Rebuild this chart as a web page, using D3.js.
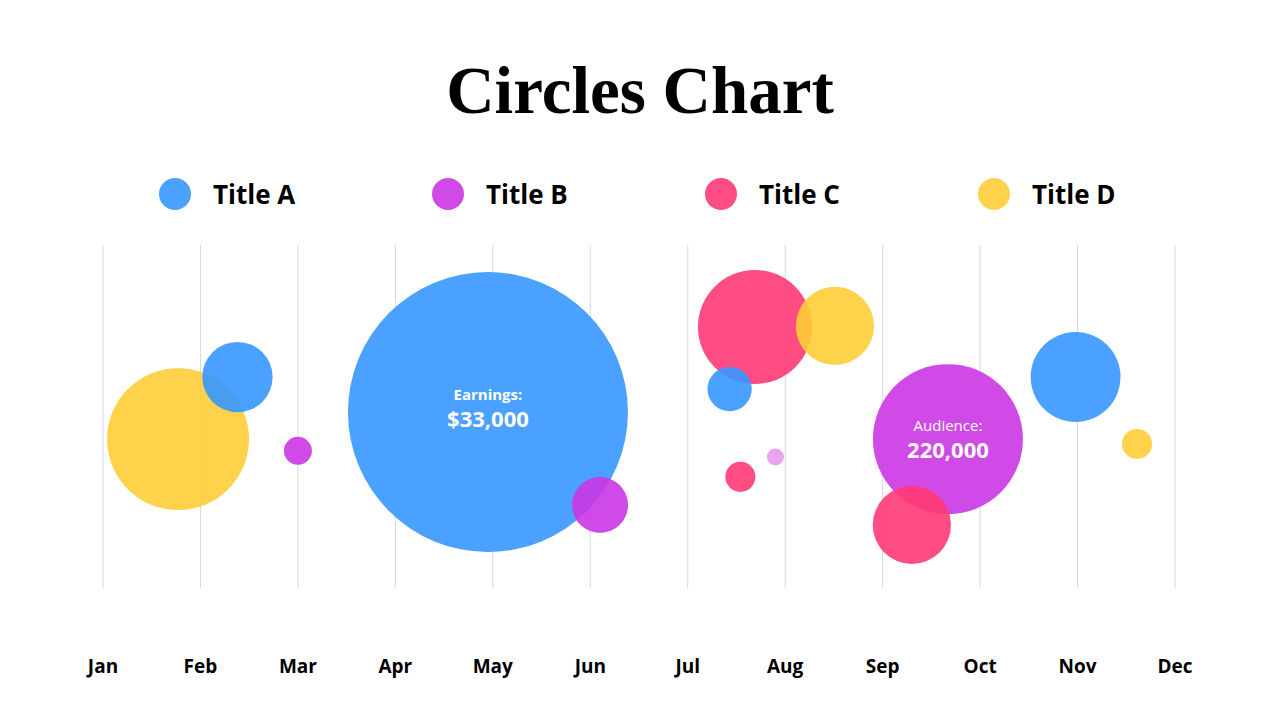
<!DOCTYPE html>
<html>
<head>
<meta charset="utf-8">
<script src="https://cdn.jsdelivr.net/npm/d3@7"></script>
<style>
  body { margin: 0; background: #fff; }
  svg { display: block; }
</style>
</head>
<body>
<div id="chart"></div>
<script>
// chart data
var months = ["Jan", "Feb", "Mar", "Apr", "May", "Jun", "Jul", "Aug", "Sep", "Oct", "Nov", "Dec"];
var seriesNames = ["Title A", "Title B", "Title C", "Title D"];
var seriesColors = ["#3697ff", "#cb36e5", "#ff3874", "#ffcd39"];

// bubbles per series: month position, value, size
var titleA = [
  {m: 1.38, v: 61.5, s: 6.3},
  {m: 3.95, v: 51.3, s: 100, label: "Earnings:", value: "$33,000"},
  {m: 6.43, v: 58.0, s: 2.5},
  {m: 9.98, v: 61.5, s: 10.3}
];
var titleB = [
  {m: 2.0, v: 40.0, s: 1.0},
  {m: 5.1, v: 24.2, s: 4.0},
  {m: 6.9, v: 38.2, s: 0.37, faint: true},
  {m: 8.67, v: 43.4, s: 28.7, label: "Audience:", value: "220,000"}
];
var titleC = [
  {m: 6.69, v: 76.1, s: 16.6},
  {m: 6.54, v: 32.4, s: 1.15},
  {m: 8.3, v: 18.4, s: 7.8}
];
var titleD = [
  {m: 0.77, v: 43.4, s: 25.7},
  {m: 7.51, v: 76.4, s: 7.8},
  {m: 10.61, v: 42.0, s: 1.15}
];

var W = 1280, H = 720;

var svg = d3.select("#chart")
  .append("svg")
  .attr("width", W)
  .attr("height", H);

var x = d3.scaleLinear().domain([0, 11]).range([103, 1175]);
var y = d3.scaleLinear().domain([0, 100]).range([588, 245]);
var r = d3.scaleSqrt().domain([0, 100]).range([0, 140]);

// title
svg.append("text")
  .attr("x", W / 2)
  .attr("y", 113)
  .attr("text-anchor", "middle")
  .style("font-family", "'Liberation Serif', serif")
  .style("font-weight", "bold")
  .style("font-size", "67px")
  .text("Circles Chart");

// legend
var legendX = [175, 448, 721, 994];
var legend = svg.selectAll(".legend")
  .data(seriesNames)
  .enter()
  .append("g")
  .attr("transform", function(d, i) { return "translate(" + legendX[i] + ",194)"; });

legend.append("circle")
  .attr("r", 16)
  .style("fill", function(d, i) { return seriesColors[i]; })
  .style("opacity", 0.9);

legend.append("text")
  .attr("x", 38)
  .attr("y", 10)
  .style("font-family", "'Open Sans', sans-serif")
  .style("font-weight", "bold")
  .style("font-size", "26px")
  .text(function(d) { return d; });

// grid lines
svg.append("g")
  .selectAll("line")
  .data(months)
  .enter()
  .append("line")
  .attr("x1", function(d, i) { return x(i); })
  .attr("x2", function(d, i) { return x(i); })
  .attr("y1", y(100))
  .attr("y2", y(0))
  .style("stroke", "#d6d6ea")
  .style("stroke-width", 1);

// month labels
svg.append("g")
  .selectAll("text")
  .data(months)
  .enter()
  .append("text")
  .attr("x", function(d, i) { return x(i); })
  .attr("y", 673)
  .attr("text-anchor", "middle")
  .style("font-family", "'Open Sans', sans-serif")
  .style("font-weight", "bold")
  .style("font-size", "19px")
  .text(function(d) { return d; });

// bubbles, big ones drawn first
var all = [];
[titleA, titleB, titleC, titleD].forEach(function(arr, i) {
  arr.forEach(function(d) { all.push(Object.assign({series: i}, d)); });
});
all.sort(function(a, b) { return b.s - a.s; });

svg.append("g")
  .selectAll("circle")
  .data(all)
  .enter()
  .append("circle")
  .attr("cx", function(d) { return x(d.m); })
  .attr("cy", function(d) { return y(d.v); })
  .attr("r", function(d) { return r(d.s); })
  .style("fill", function(d) { return seriesColors[d.series]; })
  .style("opacity", function(d) { return d.faint ? 0.45 : 0.9; });

// labels inside the big bubbles
var labelled = all.filter(function(d) { return d.label; });
var lab = svg.append("g")
  .selectAll("g")
  .data(labelled)
  .enter()
  .append("g")
  .attr("transform", function(d) { return "translate(" + x(d.m) + "," + y(d.v) + ")"; })
  .style("font-family", "'Open Sans', sans-serif")
  .style("fill", "#fff")
  .attr("text-anchor", "middle");

lab.append("text")
  .attr("y", function(d) { return d.series == 0 ? -12 : -8; })
  .style("font-weight", function(d) { return d.series == 0 ? "bold" : "normal"; })
  .style("font-size", "15px")
  .text(function(d) { return d.label; });

lab.append("text")
  .attr("y", function(d) { return d.series == 0 ? 15 : 19; })
  .style("font-weight", "bold")
  .style("font-size", "22px")
  .text(function(d) { return d.value; });
</script>
</body>
</html>
